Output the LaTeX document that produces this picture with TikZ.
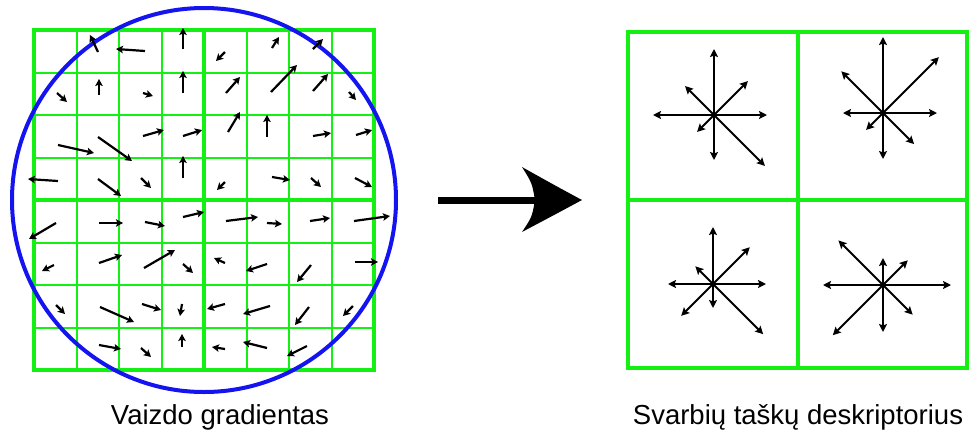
\documentclass[tikz,border=0pt]{standalone}
\usepackage{fontspec}
\setmainfont{Liberation Sans}
\usetikzlibrary{arrows.meta}
\definecolor{gridgreen}{RGB}{20,240,20}
\definecolor{circblue}{RGB}{20,20,240}
\begin{document}
\begin{tikzpicture}[x={(1pt,0)},y={(0,-1pt)},
  thingrid/.style={draw=gridgreen,line width=2pt},
  thickgrid/.style={draw=gridgreen,line width=4pt},
  gradarrow/.style={draw=black,line width=2.2pt,-{Stealth[length=7pt,width=7.5pt,inset=1.5pt]}},
  histarrow/.style={draw=black,line width=2pt,-{Stealth[length=8pt,width=8pt,inset=1.5pt]}},
  lbl/.style={font=\fontsize{27.5}{32}\selectfont,anchor=base,inner sep=0pt}]
\useasboundingbox (0,0) rectangle (970,432);
% ---------- left grid ----------
\foreach \i in {1,2,3,5,6,7} {
  \draw[thingrid] ({34+42.5*\i},30) -- ({34+42.5*\i},370);
  \draw[thingrid] (34,{30+42.5*\i}) -- (374,{30+42.5*\i});
}
\draw[thickgrid] (204,30) -- (204,370);
\draw[thickgrid] (34,200) -- (374,200);
\draw[thickgrid] (34,30) rectangle (374,370);
% circle
\draw[circblue,line width=4pt] (204,200) circle [radius=192pt];
% gradient arrows
\foreach \ax/\ay/\bx/\by in {
  98/52/90/35, 145/51/116/49, 183/49/183/28,
  225/52/216/61, 272/48/279/37, 313/49/323/39,
  57/93/67/102, 99/95/99/79, 143/93/153/96, 183/93/183/71,
  226/93/240/77, 271/92/297/65, 313/91/328/74, 349/92/356/100,
  58/145/94/153, 98/137/132/161, 143/136/164/130, 183/136/202/130,
  228/132/240/112, 267/137/267/115, 313/136/331/133, 356/135/372/130,
  58/181/28/179, 98/179/121/196, 141/178/151/188, 183/178/183/156,
  225/182/217/190, 272/177/290/180, 311/178/321/187, 355/178/372/187,
  56/223/29/239, 99/223/123/223, 145/222/165/226, 183/217/204/212,
  226/221/258/217, 267/223/282/224, 310/221/330/218, 354/221/390/216,
  54/265/42/271, 99/263/122/255, 144/268/175/250, 183/264/193/273,
  225/263/214/258, 267/264/246/271, 311/265/297/282, 355/262/378/262,
  56/305/65/314, 100/307/134/322, 142/304/161/310, 182/304/180/316,
  225/304/207/309, 270/306/243/314, 309/307/295/325, 353/306/343/316,
  99/345/121/349, 141/348/151/357, 182/347/182/334,
  225/349/212/347, 267/348/243/342, 307/346/287/356} {
  \draw[gradarrow] (\ax,\ay) -- (\bx,\by);
}
% ---------- big arrow ----------
\coordinate (bigtail) at (438,200);
\coordinate (bigtip) at (582,200);
\draw[black,line width=7pt] (bigtail) -- (540,200);
\fill[black] (bigtip) .. controls (556,186) .. (522,167)
  .. controls (532,183) .. (535,200)
  .. controls (532,217) .. (522,232)
  .. controls (556,214) .. (bigtip) -- cycle;
% ---------- right grid ----------
\draw[thickgrid] (798,32) -- (798,368);
\draw[thickgrid] (628,200) -- (967,200);
\draw[thickgrid] (628,32) rectangle (967,368);
% histograms: center / lengths for 0,45,...,315 degrees
\foreach \cx/\cy/\la/\lb/\lc/\ld/\le/\lf/\lg/\lh [count=\k] in {
  714/115/53/48/66/41/61/24/45/72,
  883/113/54/79/76/59/40/24/46/44,
  713/284/53/52/57/25/45/45/24/71,
  883/285/68/35/27/63/60/71/47/42} {
  \coordinate (hc\k) at (\cx,\cy);
  \draw[histarrow] (hc\k) -- ++(0:\la pt);
  \draw[histarrow] (hc\k) -- ++(45:\lb pt);
  \draw[histarrow] (hc\k) -- ++(90:\lc pt);
  \draw[histarrow] (hc\k) -- ++(135:\ld pt);
  \draw[histarrow] (hc\k) -- ++(180:\le pt);
  \draw[histarrow] (hc\k) -- ++(225:\lf pt);
  \draw[histarrow] (hc\k) -- ++(270:\lg pt);
  \draw[histarrow] (hc\k) -- ++(315:\lh pt);
}
% ---------- labels ----------
\node[lbl] (lblleft) at (220,424) {Vaizdo gradientas};
\node[lbl] (lblright) at (798,424) {Svarbių taškų deskriptorius};
\end{tikzpicture}
\end{document}
